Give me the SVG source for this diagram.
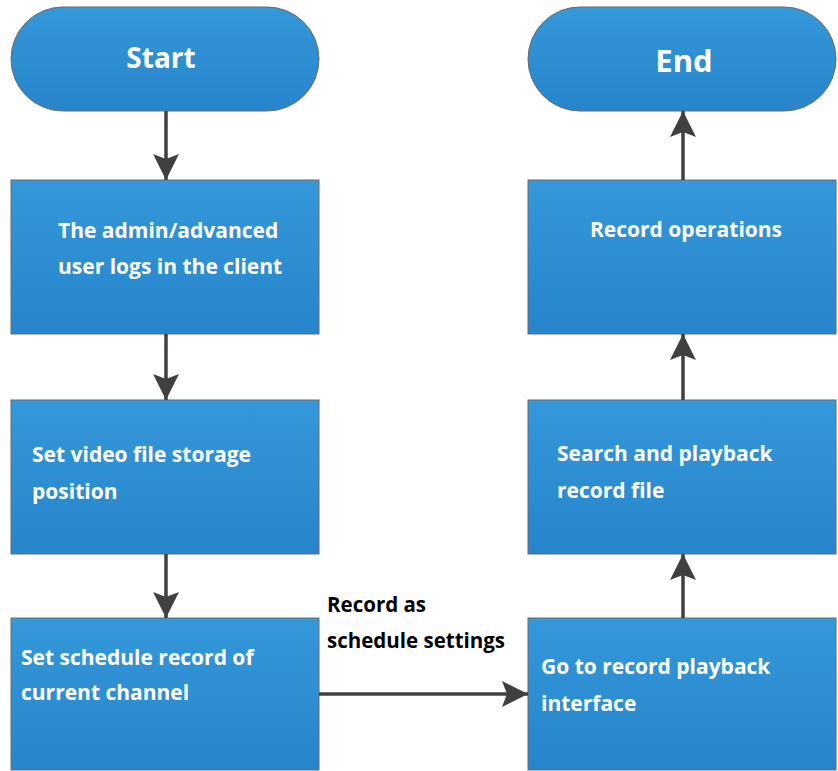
<svg xmlns="http://www.w3.org/2000/svg" width="838" height="771" viewBox="0 0 838 771">
<defs>
<linearGradient id="g" x1="0" y1="0" x2="0" y2="1">
<stop offset="0" stop-color="#3498da"/>
<stop offset="1" stop-color="#2785cb"/>
</linearGradient>
<marker id="ah" markerWidth="26" markerHeight="26" viewBox="0 0 26 26" refX="26" refY="13" orient="auto" markerUnits="userSpaceOnUse">
<path d="M0,0 L26,13 L0,26 L5,13 Z" fill="#404040"/>
</marker>
<style>
.n{fill:url(#g);stroke:#6a6a6a;stroke-width:1}
.t{font-family:"Open Sans","Noto Sans",sans-serif;font-weight:bold;fill:#fff;font-size:21px}
.big{font-size:28px}
.c{stroke:#404040;stroke-width:3.5;fill:none;marker-end:url(#ah)}
.lbl{font-family:"Open Sans","Noto Sans",sans-serif;font-weight:bold;fill:#000;font-size:20.5px}
</style>
</defs>
<rect width="838" height="771" fill="#fff"/>
<g id="start"><rect class="n" x="11" y="7" width="308" height="104" rx="52" ry="52"/><text class="t big" x="161" y="68" text-anchor="middle">Start</text></g>
<g id="end"><rect class="n" x="528" y="7" width="308" height="104" rx="52" ry="52"/><text class="t big" x="684" y="72" text-anchor="middle" style="font-size:31px">End</text></g>
<g id="login"><rect class="n" x="11" y="180" width="308" height="154"/><text class="t" x="58" y="238">The admin/advanced</text><text class="t" x="58" y="274">user logs in the client</text></g>
<g id="storage"><rect class="n" x="11" y="400" width="308" height="154"/><text class="t" x="32" y="462">Set video file storage</text><text class="t" x="32" y="499">position</text></g>
<g id="schedule"><rect class="n" x="11" y="618" width="308" height="152"/><text class="t" x="21" y="665">Set schedule record of</text><text class="t" x="21" y="700">current channel</text></g>
<g id="goto"><rect class="n" x="528" y="618" width="308" height="152"/><text class="t" x="541" y="674">Go to record playback</text><text class="t" x="541" y="711">interface</text></g>
<g id="search"><rect class="n" x="528" y="400" width="308" height="154"/><text class="t" x="557" y="461">Search and playback</text><text class="t" x="557" y="498">record file</text></g>
<g id="ops"><rect class="n" x="528" y="180" width="308" height="154"/><text class="t" x="590" y="237">Record operations</text></g>
<g id="connectors">
<line class="c" x1="166" y1="111" x2="166" y2="180"/>
<line class="c" x1="166" y1="334" x2="166" y2="400"/>
<line class="c" x1="166" y1="554" x2="166" y2="618"/>
<line class="c" x1="319" y1="694" x2="528" y2="694"/>
<line class="c" x1="683" y1="618" x2="683" y2="554"/>
<line class="c" x1="683" y1="400" x2="683" y2="334"/>
<line class="c" x1="683" y1="180" x2="683" y2="111"/>
<text class="lbl" x="327" y="612">Record as</text>
<text class="lbl" x="327" y="648">schedule settings</text>
</g>
</svg>
